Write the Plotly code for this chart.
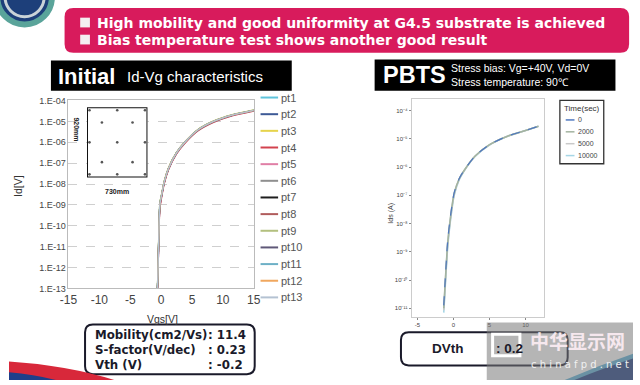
import plotly.graph_objects as go

W, H = 640, 385

# ---------------- data ----------------
vg_init = [-0.8, -0.6, -0.45, -0.2, 0.1, 0.5, 1.2, 2.5, 4.0, 6.0, 8.5, 11.5, 15.0]
pt_names = ["pt1", "pt2", "pt3", "pt4", "pt5", "pt6", "pt7", "pt8", "pt9", "pt10", "pt11", "pt12", "pt13"]
pt_colors = ["#5fc4dc", "#3d5a96", "#e6d44c", "#d2424e", "#e07fa6", "#8f8f8f", "#1e1e1e",
             "#b05c5c", "#b3c07f", "#5f5878", "#6db0c6", "#f0a75e", "#b4c2d2"]
pt_log_id = [
    [-13.6, -13.0, -11.4, -9.0, -8.50, -7.90, -7.25, -6.50, -5.95, -5.40, -5.00, -4.70, -4.47],
    [-13.7, -13.1, -11.6, -9.1, -8.55, -7.95, -7.28, -6.52, -5.97, -5.42, -5.02, -4.72, -4.49],
    [-13.5, -12.9, -11.3, -8.9, -8.45, -7.86, -7.22, -6.48, -5.93, -5.38, -4.98, -4.68, -4.45],
    [-13.8, -13.2, -11.7, -9.2, -8.62, -8.00, -7.32, -6.56, -6.00, -5.45, -5.05, -4.74, -4.51],
    [-13.7, -13.1, -11.6, -9.1, -8.58, -7.97, -7.30, -6.55, -5.99, -5.44, -5.04, -4.73, -4.50],
    [-13.6, -13.0, -11.5, -9.0, -8.52, -7.92, -7.26, -6.51, -5.96, -5.41, -5.01, -4.71, -4.48],
    [-13.6, -13.0, -11.4, -9.0, -8.50, -7.91, -7.25, -6.50, -5.95, -5.40, -5.00, -4.70, -4.47],
    [-13.7, -13.1, -11.5, -9.1, -8.56, -7.96, -7.29, -6.53, -5.98, -5.43, -5.03, -4.72, -4.49],
    [-13.5, -12.9, -11.3, -8.9, -8.47, -7.88, -7.23, -6.49, -5.94, -5.39, -4.99, -4.69, -4.46],
    [-13.6, -13.0, -11.5, -9.0, -8.53, -7.93, -7.27, -6.52, -5.96, -5.41, -5.01, -4.71, -4.48],
    [-13.5, -12.9, -11.4, -8.9, -8.48, -7.89, -7.24, -6.49, -5.94, -5.39, -4.99, -4.69, -4.46],
    [-13.6, -13.0, -11.4, -9.0, -8.49, -7.90, -7.24, -6.50, -5.95, -5.40, -5.00, -4.70, -4.47],
    [-13.6, -13.0, -11.5, -9.0, -8.51, -7.91, -7.26, -6.51, -5.95, -5.40, -5.00, -4.70, -4.47],
]
y_tick_vals = [1e-13, 1e-12, 1e-11, 1e-10, 1e-9, 1e-8, 1e-7, 1e-6, 1e-5, 1e-4]
y_tick_text = ["1.E-13", "1.E-12", "1.E-11", "1.E-10", "1.E-09", "1.E-08", "1.E-07",
               "1.E-06", "1.E-05", "1.E-04"]
x_tick_vals = [-15, -10, -5, 0, 5, 10, 15]
x_tick_text = ["-15", "-10", "-5", "0", "5", "10", "15"]

# inset: substrate measurement positions (mm)
site_x = [30, 365, 700, 180, 550, 30, 365, 700, 180, 550, 30, 365, 700]
site_y = [880, 880, 880, 720, 720, 460, 460, 460, 200, 200, 40, 40, 40]

# PBTS
vg_pbts = [-1.35, -1.1, -0.8, -0.4, 0.1, 0.8, 1.5, 3.0, 5.0, 7.5, 10.0, 11.8]
stress_times = ["0", "2000", "5000", "10000"]
stress_colors = ["#4f78c0", "#a3b3a0", "#c9c9c9", "#a6d6e6"]
stress_ids = [
    [1.26e-11, 1.58e-10, 2.51e-9, 2.0e-8, 1.26e-7, 3.98e-7, 7.94e-7, 2.51e-6, 6.31e-6, 1.26e-5, 2.0e-5, 2.82e-5],
    [1.0e-11, 1.3e-10, 2.1e-9, 1.8e-8, 1.2e-7, 3.9e-7, 7.8e-7, 2.5e-6, 6.3e-6, 1.26e-5, 2.0e-5, 2.82e-5],
    [8.5e-12, 1.1e-10, 1.8e-9, 1.6e-8, 1.1e-7, 3.8e-7, 7.7e-7, 2.45e-6, 6.2e-6, 1.25e-5, 2.0e-5, 2.8e-5],
    [7.0e-12, 9.0e-11, 1.5e-9, 1.4e-8, 1.0e-7, 3.6e-7, 7.5e-7, 2.4e-6, 6.1e-6, 1.24e-5, 1.98e-5, 2.8e-5],
]
pbts_tick_vals = [1e-11, 1e-10, 1e-9, 1e-8, 1e-7, 1e-6, 1e-5, 1e-4]
pbts_tick_text = ["10⁻¹¹", "10⁻¹⁰", "10⁻⁹", "10⁻⁸", "10⁻⁷", "10⁻⁶", "10⁻⁵", "10⁻⁴"]

stats_labels = ["Mobility(cm2/Vs)", "S-factor(V/dec)", "Vth (V)"]
stats_values = [": 11.4", ": 0.23", ": -0.2"]

header_lines = ["High mobility and good uniformity at G4.5 substrate is achieved",
                "Bias temperature test shows another good result"]


# ---------------- helpers ----------------
def px(x):
    return x / W


def py(y):
    return 1 - y / H


def P(x, y):
    return f"{px(x):.5f},{py(y):.5f}"


def rrect(x0, y0, x1, y1, r):
    return (f"M{P(x0 + r, y0)} L{P(x1 - r, y0)} Q{P(x1, y0)} {P(x1, y0 + r)} "
            f"L{P(x1, y1 - r)} Q{P(x1, y1)} {P(x1 - r, y1)} L{P(x0 + r, y1)} "
            f"Q{P(x0, y1)} {P(x0, y1 - r)} L{P(x0, y0 + r)} Q{P(x0, y0)} {P(x0 + r, y0)} Z")


def text(t, x, y, size, color="#333333", xa="left", ya="middle", family="Liberation Sans", **kw):
    d = dict(text=t, x=px(x), y=py(y), xref="paper", yref="paper", xanchor=xa, yanchor=ya,
             showarrow=False, font=dict(family=family, size=size, color=color))
    d.update(kw)
    return d


fig = go.Figure()

for name, col, lg in zip(pt_names, pt_colors, pt_log_id):
    fig.add_trace(go.Scatter(x=vg_init, y=[10 ** v for v in lg], mode="lines", name=name,
                             line=dict(color=col, width=1.3, shape="spline", smoothing=0.6),
                             xaxis="x", yaxis="y", showlegend=False))

fig.add_trace(go.Scatter(x=site_x, y=site_y, mode="markers", xaxis="x3", yaxis="y3",
                         marker=dict(size=2.6, color="#555555"), showlegend=False))

for i in [3, 2, 1, 0]:
    fig.add_trace(go.Scatter(x=vg_pbts, y=stress_ids[i], mode="lines", name=stress_times[i],
                             line=dict(color=stress_colors[i], width=1.6 if i else 1.2,
                                       dash="dash" if i == 0 else "solid",
                                       shape="spline", smoothing=0.6),
                             xaxis="x2", yaxis="y2", showlegend=False))

shapes = []
ann = []

# logo ring top-left
shapes.append(dict(type="circle", xref="paper", yref="paper", x0=px(-12), x1=px(44), y0=py(20), y1=py(-36),
                   line=dict(color="#5aa49a", width=6), fillcolor="#1d3f7a", layer="above"))
shapes.append(dict(type="circle", xref="paper", yref="paper", x0=px(-4), x1=px(36), y0=py(12), y1=py(-28),
                   line=dict(color="#c9d3d8", width=3), fillcolor="#1d3f7a", layer="above"))

# header
shapes.append(dict(type="path", xref="paper", yref="paper", path=rrect(57, 3, 636, 49, 9),
                   fillcolor="#d81b5c", line=dict(width=0)))
for i, line in enumerate(header_lines):
    yc = 18 + 17.5 * i
    shapes.append(dict(type="rect", xref="paper", yref="paper", x0=px(73), x1=px(83), y0=py(yc + 5),
                       y1=py(yc - 5), fillcolor="#f4eef0", line=dict(width=0)))
    ann.append(text(line, 88, yc, 14, "white", family="DejaVu Sans"))
    ann[-1]["font"]["weight"] = "bold"

# black title bars
shapes.append(dict(type="rect", xref="paper", yref="paper", x0=px(43), x1=px(290), y0=py(88), y1=py(57),
                   fillcolor="black", line=dict(width=0)))
shapes.append(dict(type="rect", xref="paper", yref="paper", x0=px(375), x1=px(622), y0=py(88), y1=py(56),
                   fillcolor="black", line=dict(width=0)))
ann.append(text("<b>Initial</b>", 48, 73, 22, "white"))
ann.append(text("Id-Vg characteristics", 119, 73, 15, "white"))
ann.append(text("<b>PBTS</b>", 382, 72, 23.5, "white"))
ann.append(text("Stress bias: Vg=+40V, Vd=0V<br>Stress temperature: 90℃", 451, 72, 10.5, "white", align="left"))

# left legend (manual, compact spacing like the original)
for i, (name, col) in enumerate(zip(pt_names, pt_colors)):
    yc = 95 + 17.1 * i
    shapes.append(dict(type="line", xref="paper", yref="paper", x0=px(258), x1=px(276), y0=py(yc), y1=py(yc),
                       line=dict(color=col, width=2)))
    ann.append(text(name, 277, yc, 11, "#555555"))

# axis titles
ann.append(text("Id[V]", 9, 186, 10.5, "#333333", xa="center", textangle=-90))
ann.append(text("Vgs[V]", 157, 322, 10.5, "#333333", xa="center"))
ann.append(text("Ids (A)", 392, 214, 7, "#444444", xa="center", textangle=-90))

# inset substrate box
shapes.append(dict(type="rect", xref="x3", yref="y3", x0=0, x1=730, y0=0, y1=920,
                   line=dict(color="#111111", width=2), fillcolor="rgba(255,255,255,0.95)", layer="below"))
ann.append(dict(x=-75, y=920, ax=-75, ay=0, xref="x3", yref="y3", axref="x3", ayref="y3", text="",
                showarrow=True, arrowside="end+start", arrowhead=2, arrowsize=0.8, arrowwidth=1,
                arrowcolor="#888888"))
ann.append(dict(x=0, y=-85, ax=730, ay=-85, xref="x3", yref="y3", axref="x3", ayref="y3", text="",
                showarrow=True, arrowside="end+start", arrowhead=2, arrowsize=0.8, arrowwidth=1,
                arrowcolor="#888888"))
ann.append(text("<b>920mm</b>", 69, 128, 7, "#222222", xa="center", textangle=90))
ann.append(text("<b>730mm</b>", 111, 191, 7, "#222222", xa="center"))

# right legend box
shapes.append(dict(type="rect", xref="paper", yref="paper", x0=px(565), x1=px(610), y0=py(163), y1=py(98),
                   line=dict(color="#333333", width=1.3), fillcolor="white"))
ann.append(text("Time(sec)", 587.5, 106, 8, "#333333", xa="center"))
for i, (t, col) in enumerate(zip(stress_times, stress_colors)):
    yc = 118 + 12.2 * i
    shapes.append(dict(type="line", xref="paper", yref="paper", x0=px(571), x1=px(580), y0=py(yc), y1=py(yc),
                       line=dict(color=col, width=1.5, dash="dash" if i == 0 else "solid")))
    ann.append(text(t, 582, yc, 7, "#444444"))

# stats box
shapes.append(dict(type="path", xref="paper", yref="paper", path=rrect(78, 328, 252, 379, 8),
                   line=dict(color="#1a1a2a", width=2), fillcolor="white"))
for i, (lab, val) in enumerate(zip(stats_labels, stats_values)):
    yc = 338.5 + 15.5 * i
    ann.append(text(lab, 86, yc, 11.8, "#1a1a2a", family="DejaVu Sans"))
    ann[-1]["font"]["weight"] = "bold"
    ann.append(text(val, 202, yc, 11.8, "#1a1a2a", family="DejaVu Sans"))
    ann[-1]["font"]["weight"] = "bold"

# DVth box
shapes.append(dict(type="path", xref="paper", yref="paper", path=rrect(402, 336, 573, 370, 8),
                   line=dict(color="#1a1a2a", width=2), fillcolor="white"))
ann.append(text("<b>DVth</b>", 432, 353, 13.5, "#1a1a2a"))
ann.append(text("<b>: 0.2</b>", 497, 353, 13.5, "#1a1a2a"))

# bottom swooshes
shapes.append(dict(type="path", xref="paper", yref="paper",
                   path=f"M{P(0, 366)} Q{P(60, 370)} {P(108, 385)} L{P(0, 385)} Z",
                   fillcolor="#d8283a", line=dict(width=0)))
shapes.append(dict(type="path", xref="paper", yref="paper",
                   path=f"M{P(0, 377)} Q{P(25, 379)} {P(48, 385)} L{P(0, 385)} Z",
                   fillcolor="#1f3f8a", line=dict(width=0)))
shapes.append(dict(type="path", xref="paper", yref="paper",
                   path=f"M{P(570, 385)} Q{P(605, 370)} {P(640, 358)} L{P(640, 385)} Z",
                   fillcolor="#5ab0d8", line=dict(width=0)))
shapes.append(dict(type="path", xref="paper", yref="paper",
                   path=f"M{P(580, 385)} Q{P(612, 372)} {P(640, 363)} L{P(640, 385)} Z",
                   fillcolor="#1c3a80", line=dict(width=0)))

# watermark
shapes.append(dict(type="rect", xref="paper", yref="paper", x0=px(490), x1=px(640), y0=py(385), y1=py(326),
                   fillcolor="rgba(120,120,120,0.55)", line=dict(width=0), layer="above"))
shapes.append(dict(type="rect", xref="paper", yref="paper", x0=px(496), x1=px(524), y0=py(360), y1=py(338),
                   fillcolor="rgba(0,0,0,0)", line=dict(color="white", width=3), layer="above"))
ann.append(text("<b>中华显示网</b>", 583, 344, 19, "#f6e8ee", xa="center", family="Noto Sans CJK SC"))
ann.append(text("c h i n a f p d . n e t", 586, 369, 10, "#f0f0f0", xa="center", family="DejaVu Sans"))

axis_font = dict(family="Liberation Sans", color="#444444")

fig.update_layout(
    width=W, height=H, margin=dict(l=0, r=0, t=0, b=0),
    paper_bgcolor="white", plot_bgcolor="white",
    shapes=shapes, annotations=ann, showlegend=False,
    xaxis=dict(domain=[px(61), px(251)], range=[-15, 15], tickvals=x_tick_vals, ticktext=x_tick_text,
               showgrid=False, zeroline=False, showline=True, linecolor="#bbbbbb", mirror=True, ticks="",
               tickfont=dict(size=12, **axis_font)),
    yaxis=dict(domain=[py(291), py(98)], type="log", range=[-13, -4], tickvals=y_tick_vals,
               ticktext=y_tick_text, showgrid=True, gridcolor="#cfcfcf", griddash="dash", gridwidth=1,
               zeroline=False, showline=True, linecolor="#bbbbbb", mirror=True, ticks="",
               tickfont=dict(size=9, **axis_font)),
    xaxis2=dict(domain=[px(413), px(549)], range=[-5.8, 12.6], tickvals=[-5, 0, 5, 10], anchor="y2",
                ticktext=["-5", "0", "5", "10"],
                showgrid=False, zeroline=False, showline=True, linecolor="#cccccc", mirror=True,
                ticks="outside", ticklen=2, tickcolor="#888888", tickfont=dict(size=6, **axis_font)),
    yaxis2=dict(domain=[py(320), py(97)], type="log", range=[-11.3, -3.6], tickvals=pbts_tick_vals,
                ticktext=pbts_tick_text, anchor="x2", showgrid=False, zeroline=False, showline=True,
                linecolor="#cccccc", mirror=True, ticks="outside", ticklen=2, tickcolor="#888888",
                tickfont=dict(size=6, **axis_font)),
    xaxis3=dict(domain=[px(80), px(142)], range=[0, 730], visible=False, anchor="y3"),
    yaxis3=dict(domain=[py(177), py(105)], range=[0, 920], visible=False, anchor="x3"),
)

fig.write_html("out.html", config={"displayModeBar": False},
               post_script="document.body.style.margin='0';document.body.style.overflow='hidden';")
